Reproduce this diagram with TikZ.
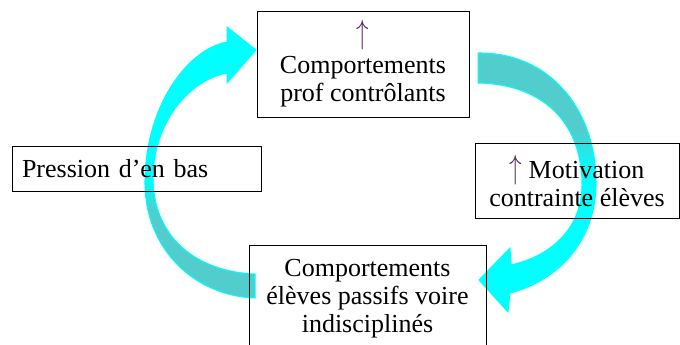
\documentclass[tikz,border=0pt]{standalone}
\usepackage{graphicx}
\usepackage{fontspec}
\setmainfont{Liberation Serif}
\definecolor{glowcyan}{RGB}{0,255,255}
\definecolor{flowteal}{RGB}{80,205,204}
\definecolor{uparrow}{RGB}{88,40,96}
\pgfdeclareverticalshading{leftflow}{100bp}{color(0bp)=(flowteal); color(41bp)=(flowteal); color(47bp)=(glowcyan); color(100bp)=(glowcyan)}
\pgfdeclareverticalshading{rightflow}{100bp}{color(0bp)=(glowcyan); color(52bp)=(glowcyan); color(60bp)=(flowteal); color(100bp)=(flowteal)}
\newcommand{\su}{{\color{uparrow}\scalebox{1}[1.35]{$\uparrow$}}}
\begin{document}
\begin{tikzpicture}[x=1pt, y=-1pt,
  box/.style={draw, line width=0.8pt, align=center, inner sep=0pt,
    font=\fontsize{26}{28}\selectfont},
  flow/.style={draw=glowcyan, line width=1pt}]

  \useasboundingbox (0,0) rectangle (680,345);
  \clip (0,0) rectangle (680,345);

  % --- freccia sinistra: eleves -> prof ---
  \shadedraw[flow, shading=leftflow]
    (255,298) .. controls (195,296) and (146,250) .. (145,185)
    .. controls (144,110) and (185,50) .. (227,42)
    -- (227,27) -- (256,50) -- (227,83) -- (227,73)
    .. controls (190,80) and (155,120) .. (153,175)
    .. controls (152,240) and (200,272) .. (255,274) -- cycle;

  % --- freccia destra: prof -> eleves ---
  \shadedraw[flow, shading=rightflow]
    (478,53) .. controls (550,52) and (597,110) .. (596,185)
    .. controls (595,240) and (560,280) .. (510,293)
    -- (508,312) -- (479,280) -- (510,248) -- (511,265)
    .. controls (555,255) and (582,225) .. (582,185)
    .. controls (582,120) and (540,84) .. (478,83) -- cycle;

  % --- riquadri ---
  \node[box, minimum width=212pt, minimum height=106pt] (prof) at (363,64)
    {\su\\[2pt]Comportements\\prof contrôlants};
  \node[box, minimum width=204pt, minimum height=75pt] (motiv) at (577,180.5)
    {\su\ Motivation\\contrainte élèves};
  \node[box, minimum width=237pt, minimum height=107pt] (eleves) at (367.5,298.5)
    {Comportements\\élèves passifs voire\\indisciplinés};
  \node[box, align=left, text width=229pt, inner xsep=10pt,
    minimum height=45pt] (pression) at (136.5,168.5) {Pression d’en bas};

\end{tikzpicture}
\end{document}
